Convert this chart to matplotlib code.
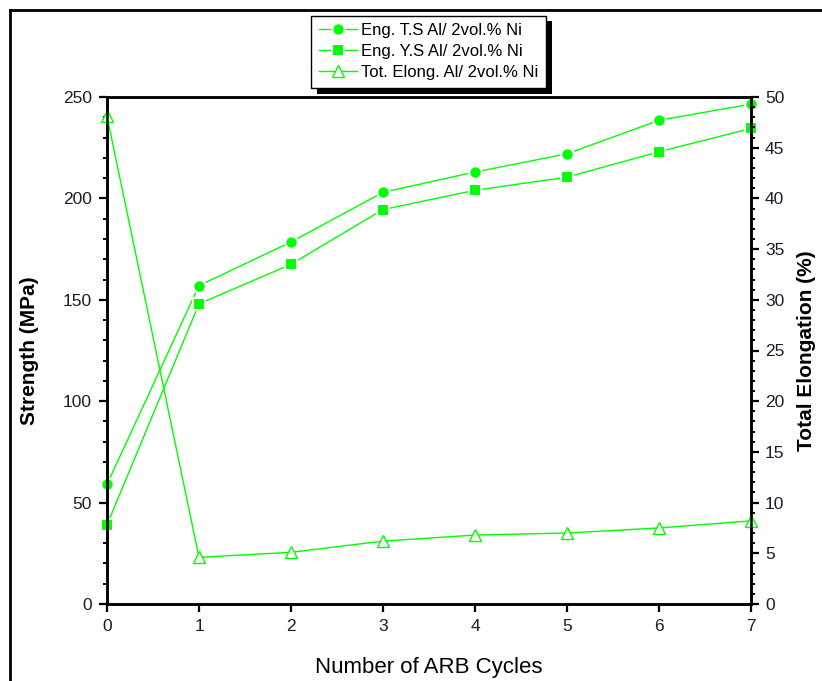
import numpy as np
import matplotlib.pyplot as plt
from matplotlib.lines import Line2D
from matplotlib.patches import Rectangle
from matplotlib.ticker import MultipleLocator

# Datos
ciclos = [0, 1, 2, 3, 4, 5, 6, 7]
ts_mpa = [59, 157, 178.5, 203, 213, 222, 238.5, 246.5]
ys_mpa = [39, 148, 167.5, 194.5, 204, 210.5, 223, 234.5]
elong_pct = [48.1, 4.6, 5.1, 6.2, 6.8, 7.0, 7.5, 8.2]

etiquetas = ["Eng. T.S Al/ 2vol.% Ni",
             "Eng. Y.S Al/ 2vol.% Ni",
             "Tot. Elong. Al/ 2vol.% Ni"]

verde = "#00ff00"


def main():
    plt.rcParams['font.family'] = ['Liberation Sans', 'DejaVu Sans']

    W, H = 822, 681
    fig = plt.figure(figsize=(W / 100, H / 100), dpi=100)
    ax1 = fig.add_axes([107 / W, 77 / H, 644 / W, 507 / H])
    ax2 = ax1.twinx()

    # Series de resistencia (eje izquierdo)
    ax1.plot(ciclos, ts_mpa, color=verde, lw=1.0, marker='o', ms=9,
             mfc=verde, mec='white', mew=1.5, clip_on=False)
    ax1.plot(ciclos, ys_mpa, color=verde, lw=1.0, marker='s', ms=8.5,
             mfc=verde, mec='white', mew=1.5, clip_on=False)

    # Elongacion (eje derecho)
    ax2.plot(ciclos, elong_pct, color=verde, lw=1.0, marker='^', ms=9,
             mfc='white', mec=verde, mew=1.0, clip_on=False)

    ax1.set_xlim(0, 7)
    ax1.set_ylim(0, 250)
    ax2.set_ylim(0, 50)
    ax1.xaxis.set_major_locator(MultipleLocator(1))
    ax1.yaxis.set_major_locator(MultipleLocator(50))
    ax1.yaxis.set_minor_locator(MultipleLocator(10))
    ax2.yaxis.set_major_locator(MultipleLocator(5))
    ax2.yaxis.set_minor_locator(MultipleLocator(1))

    for a in (ax1, ax2):
        for s in a.spines.values():
            s.set_linewidth(1.8)
    ax1.tick_params(axis='both', which='major', direction='out', length=6,
                    width=1.6, labelsize=12.5, pad=5, labelcolor='#1c1c2c')
    ax1.tick_params(axis='y', which='minor', direction='out', length=3,
                    width=1.4)
    ax2.tick_params(axis='y', which='major', direction='out', length=6,
                    width=1.6, labelsize=12.5, pad=4, labelcolor='#1c1c2c')
    ax2.tick_params(axis='y', which='minor', direction='out', length=3,
                    width=1.4)

    ax1.set_xlabel("Number of ARB Cycles", fontsize=16, va='center')
    ax1.xaxis.set_label_coords(0.5, (604 - 667) / 507)
    ax1.set_ylabel("Strength (MPa)", fontsize=15, fontweight='bold',
                   va='center')
    ax1.yaxis.set_label_coords((30 - 107) / 644, 0.5)
    ax2.set_ylabel("Total Elongation (%)", fontsize=15, fontweight='bold',
                   va='center', rotation=90)
    ax2.yaxis.set_label_coords((806 - 107) / 644, 0.5)

    # Leyenda arriba con sombra negra
    handles = ax1.get_lines() + ax2.get_lines()
    leg = fig.legend(handles, etiquetas, loc='upper left',
                     bbox_to_anchor=(311 / W, 1 - 15.5 / H), fontsize=12,
                     frameon=True, fancybox=False, framealpha=1,
                     edgecolor='black', handlelength=2.3, handletextpad=0.25,
                     borderpad=0.45, labelspacing=0.36, borderaxespad=0)
    leg.get_frame().set_linewidth(1.0)
    leg.set_zorder(10)

    # Marco exterior
    fig.add_artist(Line2D([9.5 / W, 9.5 / W], [0, 1 - 9.5 / H], color='black',
                          lw=2.0))
    fig.add_artist(Line2D([9.5 / W, 1], [1 - 9.5 / H, 1 - 9.5 / H],
                          color='black', lw=2.0))

    fig.canvas.draw()
    bb = leg.get_window_extent()
    (x0, y0), (x1, y1) = fig.transFigure.inverted().transform(
        [[bb.x0 + 6, bb.y0 - 6], [bb.x1 + 6, bb.y1 - 6]])
    fig.add_artist(Rectangle((x0, y0), x1 - x0, y1 - y0, facecolor='black',
                             edgecolor='none', zorder=9))

    fig.savefig("out.png", dpi=100)


if __name__ == "__main__":
    main()
